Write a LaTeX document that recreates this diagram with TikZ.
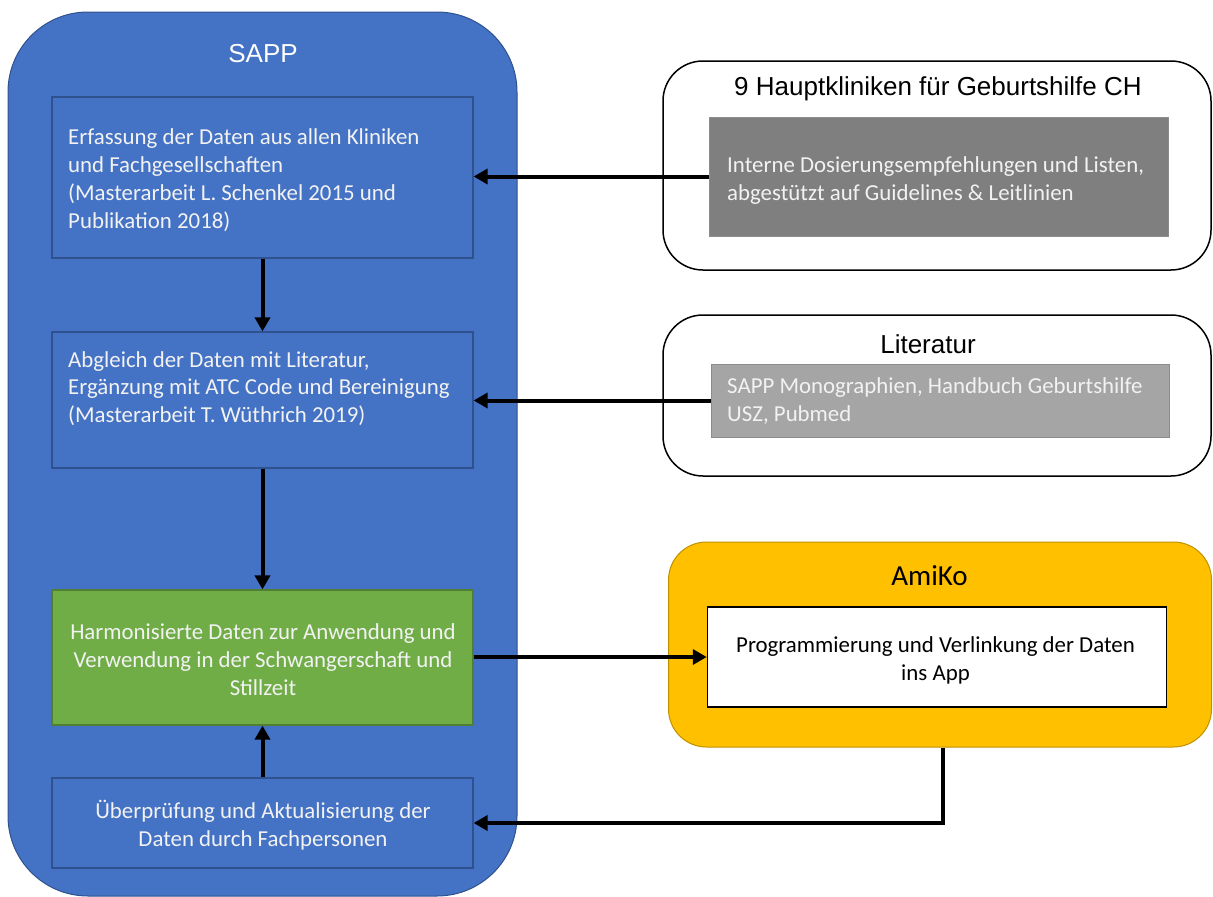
\documentclass[tikz,border=0pt]{standalone}
\usepackage{fontspec}
\setmainfont{Carlito}
\newfontfamily\arialf{Liberation Sans}
\usetikzlibrary{arrows.meta}
\definecolor{sappblue}{HTML}{4472C4}
\definecolor{sappedge}{HTML}{2F528F}
\definecolor{sappgreen}{HTML}{70AD47}
\definecolor{greenedge}{HTML}{507E32}
\definecolor{graydark}{HTML}{7F7F7F}
\definecolor{graylight}{HTML}{A5A5A5}
\definecolor{grayedge}{HTML}{8C8C8C}
\definecolor{amber}{HTML}{FFC000}
\definecolor{amberedge}{HTML}{BF9000}
\definecolor{offwhite}{HTML}{F2F2F2}
\begin{document}
\begin{tikzpicture}[x=1pt,y=-1pt,
  container/.style={draw=sappedge, fill=sappblue, line width=1pt, rounded corners=80pt, inner sep=0pt},
  outerbox/.style={draw=black, line width=1.5pt, fill=white, rounded corners=40pt, inner sep=0pt},
  ambercont/.style={draw=amberedge, fill=amber, line width=1pt, rounded corners=38pt, inner sep=0pt},
  bluebox/.style={draw=sappedge, fill=sappblue, line width=1.2pt, minimum width=421pt, inner sep=0pt},
  greenbox/.style={draw=greenedge, fill=sappgreen, line width=1.2pt, minimum width=421pt, inner sep=0pt},
  txt/.style={text=offwhite, font=\fontsize{22.85}{27.8}\selectfont, inner sep=0pt},
  title/.style={font=\arialf\fontsize{26}{30}\selectfont, inner sep=0pt},
  flow/.style={line width=4pt, -{Triangle[length=14pt,width=15pt]}},
  flowline/.style={line width=4pt}
]
\useasboundingbox (0,0) rectangle (1213,897);

% SAPP container
\node[container, minimum width=509pt, minimum height=884pt] (sapp) at (262.5,454) {};
\node[title, text=white] (sapptitle) at (263,54) {SAPP};

\node[bluebox, minimum height=161pt] (b1) at (262.5,177.5) {};
\node[txt, align=left, anchor=west] (t1) at (68,180) {Erfassung der Daten aus allen Kliniken\\und Fachgesellschaften\\(Masterarbeit L. Schenkel 2015 und\\Publikation 2018)};

\node[bluebox, minimum height=136pt] (b2) at (262.5,400) {};
\node[txt, align=left, anchor=west] (t2) at (68,388.5) {Abgleich der Daten mit Literatur,\\Ergänzung mit ATC Code und Bereinigung\\(Masterarbeit T. Wüthrich 2019)};

\node[greenbox, minimum height=135pt] (b3) at (262.5,657.5) {};
\node[txt, align=center] (t3) at (263,659.5) {Harmonisierte Daten zur Anwendung und\\Verwendung in der Schwangerschaft und\\Stillzeit};

\node[bluebox, minimum height=90pt] (b4) at (262.5,823) {};
\node[txt, align=center] (t4) at (263,825) {Überprüfung und Aktualisierung der\\Daten durch Fachpersonen};

% Kliniken
\node[outerbox, minimum width=548pt, minimum height=209pt] (klin) at (937,165.5) {};
\node[title] (klintitle) at (938,89) {9 Hauptkliniken für Geburtshilfe CH};
\node[draw=grayedge, fill=graydark, line width=1pt, minimum width=459pt, minimum height=119pt, inner sep=0pt] (g1) at (938.5,176.5) {};
\node[txt, align=left, anchor=west] (tg1) at (727,180.5) {Interne Dosierungsempfehlungen und Listen,\\abgestützt auf Guidelines \& Leitlinien};

% Literatur
\node[outerbox, minimum width=548pt, minimum height=161pt] (lit) at (937,395.5) {};
\node[title] (littitle) at (928,344) {Literatur};
\node[draw=grayedge, fill=graylight, line width=1pt, minimum width=458pt, minimum height=73pt, inner sep=0pt] (g2) at (940,400.5) {};
\node[txt, align=left, anchor=west] (tg2) at (727,401) {SAPP Monographien, Handbuch Geburtshilfe\\USZ, Pubmed};

% AmiKo
\node[ambercont, minimum width=543pt, minimum height=205pt] (ami) at (940,644.5) {};
\node[font=\fontsize{29}{33}\selectfont, inner sep=0pt] (amititle) at (929.5,576) {AmiKo};
\node[draw=black, fill=white, line width=1.5pt, minimum width=459pt, minimum height=100pt, inner sep=0pt] (app) at (937,657) {};
\node[font=\fontsize{22.85}{27.8}\selectfont, align=center, inner sep=0pt] (tapp) at (935.5,660.5) {Programmierung und Verlinkung der Daten\\ins App};

% connectors
\draw[flow] (b1.south) -- (b2.north);
\draw[flow] (b2.south) -- (b3.north);
\draw[flow] (b4.north) -- (b3.south);
\draw[flow] (g1.west) -- (b1.east |- g1.west);
\draw[flow] (g2.west) -- (b2.east |- g2.west);
\draw[flow] (b3.east |- app.west) -- (app.west);
\coordinate (corner) at (943,823);
\draw[flow] (ami.south -| corner) -- (corner) -- (b4.east |- corner);
\end{tikzpicture}
\end{document}
